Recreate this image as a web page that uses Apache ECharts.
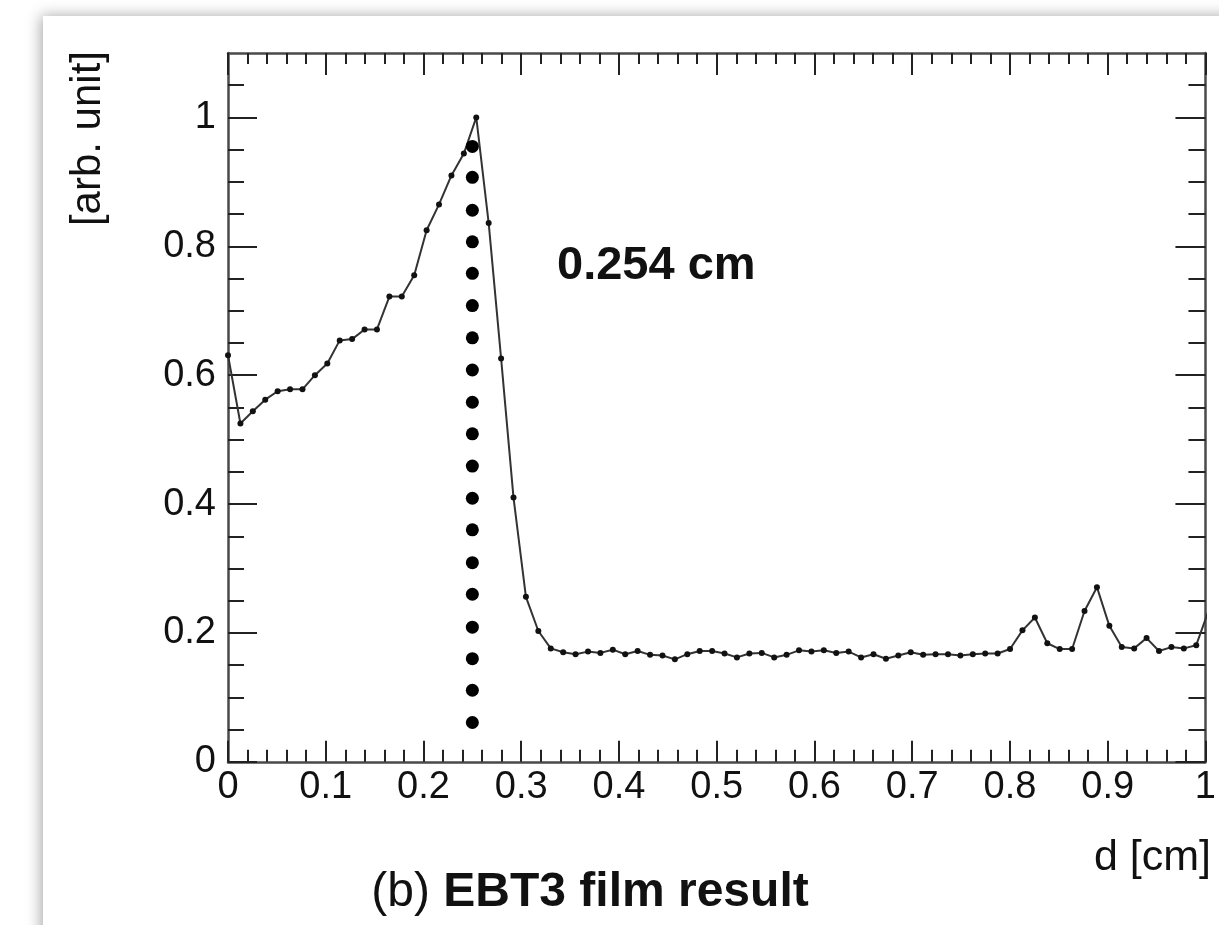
<!DOCTYPE html>
<html>
<head>
<meta charset="utf-8">
<script src="https://cdn.jsdelivr.net/npm/echarts@6/dist/echarts.min.js"></script>
<style>
html,body{margin:0;padding:0;background:#ffffff;}
#chart{width:1219px;height:925px;}
</style>
</head>
<body>
<div id="chart"></div>
<script>
// ---- data ----
const xValues = [0,0.0127,0.0254,0.0381,0.0508,0.0635,0.0762,0.0889,0.1016,0.1143,
  0.127,0.1397,0.1524,0.1651,0.1778,0.1905,0.2032,0.2159,0.2286,0.2413,
  0.254,0.2667,0.2794,0.2921,0.3048,0.3175,0.3302,0.3429,0.3556,0.3683,
  0.381,0.3937,0.4064,0.4191,0.4318,0.4445,0.4572,0.4699,0.4826,0.4953,
  0.508,0.5207,0.5334,0.5461,0.5588,0.5715,0.5842,0.5969,0.6096,0.6223,
  0.635,0.6477,0.6604,0.6731,0.6858,0.6985,0.7112,0.7239,0.7366,0.7493,
  0.762,0.7747,0.7874,0.8001,0.8128,0.8255,0.8382,0.8509,0.8636,0.8763,
  0.889,0.9017,0.9144,0.9271,0.9398,0.9525,0.9652,0.9779,0.9906,1.0033];
const yValues = [0.631,0.525,0.544,0.562,0.575,0.578,0.578,0.600,0.618,0.654,
  0.656,0.671,0.671,0.722,0.722,0.755,0.825,0.865,0.910,0.944,
  1.000,0.836,0.626,0.410,0.256,0.203,0.176,0.170,0.167,0.171,
  0.169,0.174,0.167,0.172,0.166,0.165,0.159,0.167,0.172,0.172,
  0.168,0.162,0.168,0.169,0.162,0.166,0.173,0.171,0.173,0.169,
  0.171,0.162,0.167,0.160,0.165,0.170,0.166,0.167,0.167,0.165,
  0.167,0.168,0.168,0.175,0.204,0.224,0.184,0.175,0.175,0.234,
  0.271,0.211,0.178,0.176,0.192,0.172,0.178,0.176,0.181,0.235];
const markerX = 0.25;
const markerY = [0.061,0.111,0.160,0.209,0.260,0.309,0.360,0.409,0.459,0.509,
  0.558,0.608,0.658,0.708,0.758,0.807,0.856,0.907,0.955];
const yMajorTicks = [0,0.2,0.4,0.6,0.8,1.0];
const yMinorTicks = [0.05,0.1,0.15,0.25,0.3,0.35,0.45,0.5,0.55,0.65,0.7,0.75,0.85,0.9,0.95,1.05];
const yTickLabels = ['0','0.2','0.4','0.6','0.8','1'];
const xTickLabels = ['0','0.1','0.2','0.3','0.4','0.5','0.6','0.7','0.8','0.9','1'];
const xAxisTitle = 'd [cm]';
const yAxisTitle = '[arb. unit]';
const annotation = '0.254 cm';
const captionPrefix = '(b)';
const captionMain = 'EBT3 film result';

// ---- chart ----
const FONT = "'Liberation Sans', Arial, Helvetica, sans-serif";
const frameColor = '#4a4a4a';
const tickColor = '#222';
const chart = echarts.init(document.getElementById('chart'), null, {renderer: 'canvas'});

const lineData = xValues.map((x, i) => [x, yValues[i]]);
const dotData = markerY.map(y => [markerX, y]);

function xAxisDef(pos, majorLen, minorLen, showLabel) {
  return {
    type: 'value', position: pos, min: 0, max: 1, interval: 0.1,
    axisLine: {show: true, onZero: false, lineStyle: {color: frameColor, width: 2.5}},
    axisTick: {show: true, inside: true, length: majorLen, lineStyle: {color: tickColor, width: 2}},
    minorTick: {show: true, splitNumber: 5, length: minorLen, lineStyle: {color: tickColor, width: 2}},
    splitLine: {show: false},
    axisLabel: {
      show: showLabel, margin: 7, fontFamily: FONT, fontSize: 38, color: '#111',
      formatter: (v) => { const k = Math.round(v * 10); return xTickLabels[k] !== undefined ? xTickLabels[k] : ''; }
    }
  };
}
function yAxisDef(pos, ticks, len, showLine, showLabel) {
  return {
    type: 'value', position: pos, min: 0, max: 1.1,
    axisLine: {show: showLine, onZero: false, lineStyle: {color: frameColor, width: 2.5}},
    axisTick: {show: true, inside: true, length: len, customValues: ticks, lineStyle: {color: tickColor, width: 2}},
    splitLine: {show: false},
    axisLabel: showLabel ? {
      show: true, margin: 12, fontFamily: FONT, fontSize: 38, color: '#111',
      customValues: yMajorTicks,
      formatter: (v) => { const k = yMajorTicks.findIndex(t => Math.abs(t - v) < 1e-6); return k >= 0 ? yTickLabels[k] : ''; }
    } : {show: false}
  };
}

const option = {
  backgroundColor: '#ffffff',
  animation: false,
  grid: {left: 228, top: 53, width: 980, height: 708.8, containLabel: false},
  xAxis: [
    xAxisDef('bottom', 21, 12, true),
    xAxisDef('top', 22, 11, false)
  ],
  yAxis: [
    yAxisDef('left', yMajorTicks, 29, true, true),
    yAxisDef('left', yMinorTicks, 16, false, false),
    yAxisDef('right', yMajorTicks, 30, true, false),
    yAxisDef('right', yMinorTicks, 17, false, false)
  ],
  graphic: [
    {type: 'rect', z: -10, silent: true,
     shape: {x: 43, y: 16, width: 1300, height: 1000},
     style: {fill: '#ffffff', shadowBlur: 14, shadowColor: 'rgba(0,0,0,0.35)', shadowOffsetX: -2, shadowOffsetY: 0}},
    {type: 'text', x: 557, y: 266, z: 10,
     style: {text: annotation, font: "bold 47px " + FONT, fill: '#111', textAlign: 'left', textVerticalAlign: 'middle'}},
    {type: 'text', x: 1211, y: 858, z: 10,
     style: {text: xAxisTitle, font: "43px " + FONT, fill: '#111', textAlign: 'right', textVerticalAlign: 'middle'}},
    {type: 'text', x: 88, y: 51, rotation: Math.PI / 2, z: 10,
     style: {text: yAxisTitle, font: "42px " + FONT, fill: '#111', textAlign: 'right', textVerticalAlign: 'middle'}},
    {type: 'text', x: 590, y: 893, z: 10,
     style: {
       text: '{a|' + captionPrefix + '} {b|' + captionMain + '}',
       textAlign: 'center', textVerticalAlign: 'middle',
       rich: {
         a: {fontFamily: FONT, fontSize: 48, fontWeight: 'normal', fill: '#111'},
         b: {fontFamily: FONT, fontSize: 48, fontWeight: 'bold', fill: '#111'}
       },
       font: "48px " + FONT
     }}
  ],
  series: [
    {
      type: 'line', xAxisIndex: 0, yAxisIndex: 0, data: lineData, clip: true,
      symbol: 'circle', symbolSize: 6, showAllSymbol: true,
      lineStyle: {color: '#333', width: 2},
      itemStyle: {color: '#111', opacity: 1},
      z: 3
    },
    {
      type: 'scatter', xAxisIndex: 0, yAxisIndex: 0, data: dotData,
      symbol: 'circle', symbolSize: 13,
      itemStyle: {color: '#000', opacity: 1},
      z: 4
    }
  ]
};
chart.setOption(option);
</script>
</body>
</html>
